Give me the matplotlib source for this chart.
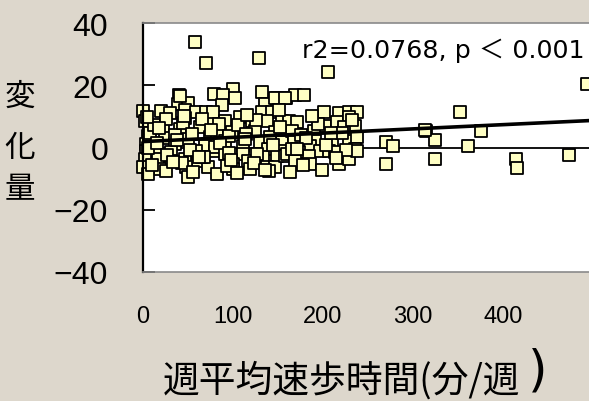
import matplotlib
matplotlib.use("Agg")
import matplotlib.pyplot as plt
import numpy as np

plt.rcParams['font.family'] = ['Noto Sans CJK JP', 'DejaVu Sans']

# Weekly brisk-walking time (min/week) vs. change
walk_min = [
    57.8, 70, 129, 206, 493, 352, 314, 376, 270, 278, 324, 361, 324, 270, 414, 416, 473, 313,
    39.6, 39, 50, 0, 20, 30, 46.7, 59, 70, 79, 46.7, 2, 78, 22, 41, 63, 5.5, 24, 50, 74, 3, 35,
    69, 3, 14, 31, 59, 80, 2, 17, 31, 47, 61, 0, 19, 48, 72, 50, 5.5,
    100, 89, 102, 132, 136, 149, 159, 88, 78, 108, 132, 143, 121, 91, 138, 154, 82, 99, 124,
    147, 160, 91, 111, 130, 154, 80, 91, 111, 139, 156, 100, 117, 133, 149, 82, 100, 119, 138,
    147, 158,
    169, 179, 201, 218, 229, 238, 162, 171, 202, 216, 229, 236, 166, 190, 223, 191, 168, 210,
    229, 238, 186, 160, 173, 197, 207, 236, 184, 213, 169, 186, 218, 229, 238, 41, 147, 158,
    8, 12, 26, 36, 44, 54, 65, 84, 95, 105, 114, 126, 141, 152, 176, 194, 221,
    6, 15, 27, 38, 52, 66, 86, 96, 113, 127, 144, 165, 181, 203, 226,
    10, 25, 43, 56, 68, 93, 104, 123, 140, 163, 178, 199, 214,
    4, 18, 33, 45, 62, 76, 98, 116, 135, 151, 171, 188, 209, 232,
]
change = [
    33.9, 27.2, 28.8, 24.3, 20.4, 11.4, 5.3, 5.3, 1.8, 0.5, 2.4, 0.5, -3.7, -5.3, -3.7, -6.6, -2.4, 5.6,
    16.8, 14, 14.3, 11.7, 11.7, 11, 12, 11.4, 11.4, 17.2, 9.5, 8.5, 8.5, 6.6, 5.9, 6.6, 3.7, 3, 2.7, 3.4, 1.1, 1.1,
    0.5, -1.1, -1.1, -1.4, -1.1, -1.1, -3.7, -3.7, -4.3, -3.7, -4.3, -6.3, -6.9, -6.3, -6.3, -9.5, -8.5,
    18.8, 16.9, 15.9, 17.8, 14, 15.9, 15.9, 13.7, 11.4, 9.8, 11.4, 11.4, 8.5, 8.5, 8.5, 8.5, 5, 5, 5.3,
    5, 5, 2.1, 0.5, 1.8, 1.8, 0.2, -2, -2, -0.5, -1.1, -5.3, -4.3, -3, -2.7, -8.5, -6.9, -6.9, -6.3,
    -6.3, -2.7,
    16.9, 16.9, 11.4, 11, 11.4, 11.4, 8.5, 8.2, 6.9, 8.2, 9.8, 6.9, 5.3, 5.3, 6.6, 2.1, 1.8, 2.1,
    2.1, 3.4, 0.5, -2.1, -1.4, -1.1, -1.1, -0.5, -2.7, -1.4, -4.3, -5.3, -5.3, -3.7, -1.1, 16.6, 16, 16,
    4.5, 7.2, 9.1, 3.9, 7.8, 4.4, 9.0, 7.5, 3.6, 7.1, 4.2, 8.8, 3.3, 6.7, 4.1, 7.7, 4.6,
    -0.3, 1.6, -2.5, 2.4, -0.8, -2.9, 1.3, -1.7, 2.6, -2.2, 0.9, -0.4, 3.1, 0.7, -0.9,
    -5.6, -7.4, -5.0, -7.8, -2.9, -5.8, -8.1, -5.1, -7.6, -8.0, -5.5, -7.2, -3.5,
    9.8, 6.2, -4.8, 10.2, -3.1, 5.6, -4.0, 10.6, -7.3, 11.9, -0.6, 10.1, 4.8, 8.7,
]

# Fitted regression line
fit_intercept = 1.9
fit_slope = 0.0136
annotation = "r2=0.0768, p ＜ 0.001"

y_ticks = [-40, -20, 0, 20, 40]
x_ticks = [0, 100, 200, 300, 400]

bg = "#ddd7cc"
fig = plt.figure(figsize=(5.89, 4.02), dpi=100, facecolor=bg)
ax = fig.add_axes([143 / 589, 1 - 273 / 402, 1 - 143 / 589, 249 / 402])
ax.set_facecolor("white")

ax.set_xlim(0, 495.5)
ax.set_ylim(-40, 40)

ax.axhline(0, color="black", lw=1.3, zorder=1)
xs = np.array([0, 495.5])
ax.plot(xs, fit_intercept + fit_slope * xs, color="black", lw=2.6, zorder=3)

ax.scatter(walk_min, change, marker="s", s=80, facecolor="#ffffc4",
           edgecolor="black", linewidth=1.3, zorder=2, clip_on=False)

ax.text(177, 31.3, annotation, fontsize=18.3, va="center", ha="left",
        family=['DejaVu Sans', 'Noto Sans CJK JP'])

ax.spines["right"].set_visible(False)
ax.spines["left"].set_color("black")
ax.spines["left"].set_linewidth(1.6)
for s in ["top", "bottom"]:
    ax.spines[s].set_color("#8a8a8a")
    ax.spines[s].set_linewidth(1.2)

ax.set_yticks(y_ticks)
ax.set_yticklabels([("−" + str(-v)) if v < 0 else str(v) for v in y_ticks])
ax.tick_params(axis="y", direction="in", length=8.6, width=1.3, pad=25,
               labelsize=23)
ax.set_xticks(x_ticks)
ax.set_xticklabels([str(v) for v in x_ticks])
ax.tick_params(axis="x", length=0, pad=24, labelsize=17)
for lbl in ax.get_yticklabels() + ax.get_xticklabels():
    lbl.set_family(['Liberation Sans', 'DejaVu Sans'])

# Vertical y-axis title, one character per line
for ch, yp in zip("変化量", [97, 149, 190]):
    fig.text(20 / 589, 1 - yp / 402, ch, fontsize=22, ha="center", va="center")

fig.text(163 / 589, 1 - 381 / 402, "週平均速歩時間(分/週", fontsize=26.5,
         ha="left", va="center")
fig.text(538 / 589, 1 - 372 / 402, ")", fontsize=36, ha="center", va="center",
         family=['DejaVu Sans'])

fig.savefig("out.png", dpi=100, facecolor=bg)
